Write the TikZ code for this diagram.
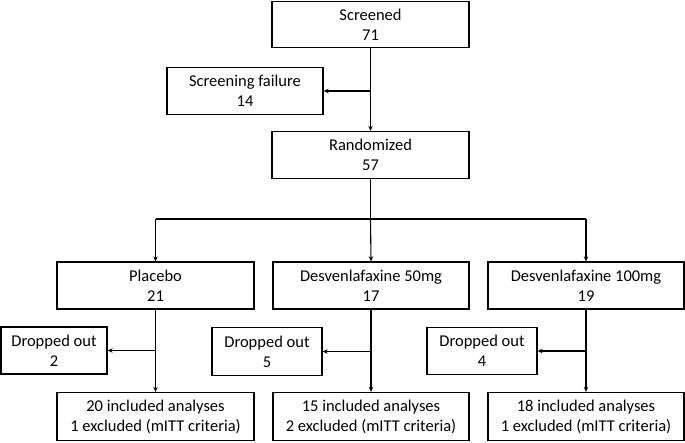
\documentclass[tikz,border=0pt]{standalone}
\usepackage{fontspec}
\setmainfont{Carlito}
\usetikzlibrary{arrows.meta,positioning}
\begin{document}
\begin{tikzpicture}[x=1pt,y=-1pt,
  box/.style={draw,line width=1.3pt,align=center,inner sep=0pt,font=\fontsize{16.5}{20}\selectfont},
  conn/.style={line width=1.1pt},
  arr/.style={conn,-{Stealth[length=5pt,width=4.5pt]}}]
\useasboundingbox (0,0) rectangle (685,442);
\node[box,minimum width=197,minimum height=46] (scr) at (370.5,24.5) {Screened\\71};
\node[box,minimum width=156,minimum height=47] (fail) at (245,91) {Screening failure\\14};
\node[box,minimum width=197,minimum height=47] (rand) at (370.5,155) {Randomized\\57};
\node[box,minimum width=197,minimum height=47] (plac) at (155.5,285.5) {Placebo\\21};
\node[box,minimum width=196,minimum height=47] (d50) at (371,285.5) {Desvenlafaxine 50mg\\17};
\node[box,minimum width=196,minimum height=47] (d100) at (586,285.5) {Desvenlafaxine 100mg\\19};
\node[box,minimum width=106,minimum height=47] (dr2) at (54,350.5) {Dropped out\\2};
\node[box,minimum width=110,minimum height=48] (dr5) at (267,351.5) {Dropped out\\5};
\node[box,minimum width=110,minimum height=47] (dr4) at (482,351) {Dropped out\\4};
\node[box,minimum width=197,minimum height=48] (inP) at (155.5,416.5) {20 included analyses\\1 excluded (mITT criteria)};
\node[box,minimum width=196,minimum height=48] (in50) at (371,416.5) {15 included analyses\\2 excluded (mITT criteria)};
\node[box,minimum width=196,minimum height=48] (in100) at (586,416.5) {18 included analyses\\1 excluded (mITT criteria)};
% top
\draw[arr] (scr.south) -- (rand.north);
\coordinate (jf) at (scr.south |- fail.east);
\draw[arr] (jf) -- (fail.east);
% split
\coordinate (sp) at (rand.south |- 0,219);
\draw[conn] (rand.south) -- (sp);
\coordinate (spL) at (plac.north |- sp);
\coordinate (spR) at (d100.north |- sp);
\draw[conn] (spL) -- (spR);
\draw[arr] (spL) -- (plac.north);
\draw[arr] (sp) -- (d50.north);
\draw[arr] (spR) -- (d100.north);
% arms
\draw[arr] (plac.south) -- (inP.north);
\coordinate (j2) at (plac.south |- dr2.east);
\draw[arr] (j2) -- (dr2.east);
\draw[arr] (d50.south) -- (in50.north);
\coordinate (j5) at (d50.south |- dr5.east);
\draw[arr] (j5) -- (dr5.east);
\draw[arr] (d100.south) -- (in100.north);
\coordinate (j4) at (d100.south |- dr4.east);
\draw[arr] (j4) -- (dr4.east);
\end{tikzpicture}
\end{document}
